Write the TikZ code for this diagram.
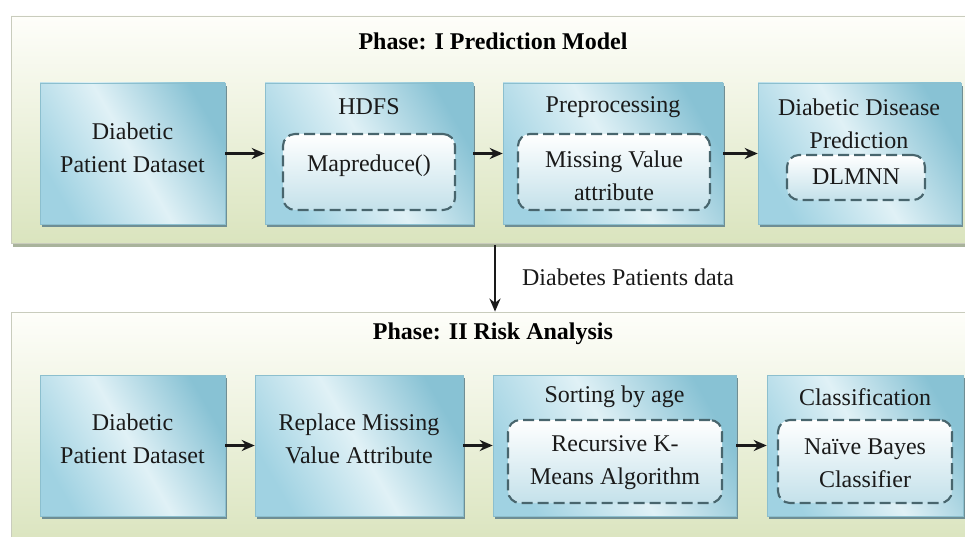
\documentclass[tikz,border=0pt]{standalone}
\usepackage{fontspec}
\setmainfont{Liberation Serif}
\usetikzlibrary{shadows,arrows.meta}
\definecolor{panelTop}{HTML}{FEFEFA}
\definecolor{panelBot}{HTML}{DAE4BE}
\definecolor{panelEdge}{HTML}{C9CCBD}
\definecolor{panelShadow}{HTML}{A9B39C}
\definecolor{boxA}{HTML}{A0D2E2}
\definecolor{boxB}{HTML}{E0F1F6}
\definecolor{boxC}{HTML}{88C2D4}
\definecolor{boxEdge}{HTML}{8CBFCE}
\definecolor{boxShadow}{HTML}{6F8E94}
\definecolor{innerEdge}{HTML}{48656D}
\definecolor{innerBot}{HTML}{C4E1EA}
\definecolor{txt}{HTML}{1A1A1A}
\begin{document}
\begin{tikzpicture}[x=1pt,y=-1pt,
  panel/.style={draw=panelEdge, line width=0.8pt, top color=panelTop, bottom color=panelBot,
    drop shadow={shadow xshift=2pt, shadow yshift=-4pt, fill=panelShadow, opacity=1}, inner sep=0pt},
  bluebox/.style={draw=boxEdge, line width=0.6pt, left color=boxA, right color=boxC, middle color=boxB,
    shading angle=120, drop shadow={shadow xshift=2pt, shadow yshift=-3pt, fill=boxShadow, opacity=1}, inner sep=0pt},
  innerbox/.style={draw=innerEdge, line width=2.1pt, dash pattern=on 11pt off 5pt, rounded corners=12pt,
    top color=white, bottom color=innerBot, inner sep=0pt},
  label/.style={font=\fontsize{24}{33}\selectfont, text=txt, align=center, inner sep=0pt},
  title/.style={font=\fontsize{24}{30}\selectfont\bfseries, text=black, inner sep=0pt},
  arr/.style={line width=2.2pt, draw=txt, -{Stealth[length=13pt,width=11pt]}}
]
\useasboundingbox (0,0) rectangle (965,537);
\clip (0,0) rectangle (965,537);
\fill[white] (0,0) rectangle (965,537);

% panels
\node[panel, minimum width=962pt, minimum height=227pt] (p1) at (492,129.5) {};
\node[panel, minimum width=962pt, minimum height=234pt] (p2) at (492,429) {};
\node[title] (p1t) at (493,41) {Phase: I Prediction Model};
\node[title] (p2t) at (493,334) {Phase: II Risk Analysis};

% top row
\node[bluebox, minimum width=185pt, minimum height=141pt] (t1) at (132.5,153.5) {};
\node[bluebox, minimum width=208pt, minimum height=141pt] (t2) at (369,153.5) {};
\node[bluebox, minimum width=220pt, minimum height=141pt] (t3) at (613,153.5) {};
\node[bluebox, minimum width=203pt, minimum height=141pt] (t4) at (859.5,153.5) {};
\node[innerbox, minimum width=172pt, minimum height=76pt] (t2i) at (369,172) {};
\node[innerbox, minimum width=192pt, minimum height=76pt] (t3i) at (614,172) {};
\node[innerbox, minimum width=138pt, minimum height=45pt] (t4i) at (856,177.5) {};

\node[label] (t1l) at (132.5,148) {Diabetic\\Patient Dataset};
\node[label] (t2l) at (369,107) {HDFS};
\node[label] (t2il) at (369,166) {Mapreduce()};
\node[label] (t3l) at (613,107) {Preprocessing};
\node[label] (t3il) at (614,176) {Missing Value\\attribute};
\node[label] (t4l) at (859,124) {Diabetic Disease\\Prediction};
\node[label] (t4il) at (856,177) {DLMNN};

% bottom row
\node[bluebox, minimum width=185pt, minimum height=141pt] (b1) at (132.5,445.5) {};
\node[bluebox, minimum width=208pt, minimum height=141pt] (b2) at (359,445.5) {};
\node[bluebox, minimum width=243pt, minimum height=141pt] (b3) at (614.5,445.5) {};
\node[bluebox, minimum width=196pt, minimum height=141pt] (b4) at (865,445.5) {};
\node[innerbox, minimum width=214pt, minimum height=83pt] (b3i) at (615,461.5) {};
\node[innerbox, minimum width=174pt, minimum height=83pt] (b4i) at (865,461.5) {};

\node[label] (b1l) at (132.5,439) {Diabetic\\Patient Dataset};
\node[label] (b2l) at (359,439) {Replace Missing\\Value Attribute};
\node[label] (b3l) at (614.5,397) {Sorting by age};
\node[label] (b3il) at (615,463) {Recursive K-\\Means Algorithm};
\node[label] (b4l) at (865,397) {Classification};
\node[label] (b4il) at (865,463) {Naïve Bayes\\Classifier};

% connectors
\draw[arr] (t1) -- (t2);
\draw[arr] (t2) -- (t3);
\draw[arr] (t3) -- (t4);
\draw[arr] (b1) -- (b2);
\draw[arr] (b2) -- (b3);
\draw[arr] (b3) -- (b4);
\coordinate (vs) at (495,245);
\draw[arr] (vs) -- (vs |- p2.north)
  node[pos=0.48, anchor=west, xshift=26pt, label] (vl) {Diabetes Patients data};
\end{tikzpicture}
\end{document}
